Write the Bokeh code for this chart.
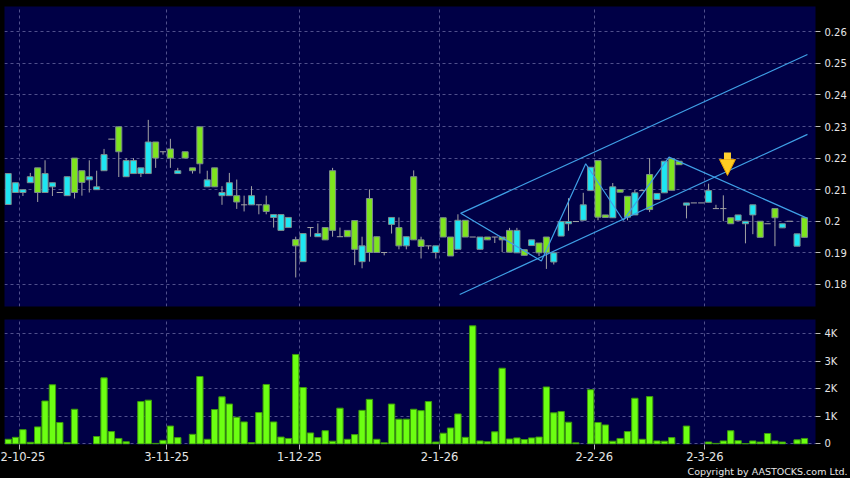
from bokeh.plotting import figure
from bokeh.layouts import column
from bokeh.models import (ColumnDataSource, Range1d, FixedTicker, Arrow, NormalHead,
                          Title, GlobalInlineStyleSheet)
from bokeh.embed import file_html
from bokeh.resources import INLINE

# ---------------- data ----------------
opens = [
    .2151, .2122, .2100, .2141, .2091, .2151, .2122, .2091, .2141, .2091,
    .2123, .2141, .2109, .2211, .2260, .2220, .2192, .2192, .2169, .2251,
    .2200, .2220, .2200, .2160, .2200, .2160, .2182, .2131, .2109, .2091,
    .2122, .2061, .2052, .2081, .2052, .2031, .2021, .2021, .2012, .1922,
    .1961, .1980, .1961, .1941, .1971, .1951, .1951, .1911, .1922, .1901,
    .1901, .1901, .2012, .1922, .1951, .1941, .1920, .1922, .1922, .1950,
    .1890, .2003, .1950, .1950, .1950, .1941, .1950, .1941, .1902, .1971,
    .1892, .1941, .1900, .1900, .1900, .1999, .1999, .1999, .2052, .2171,
    .2013, .2012, .2109, .2092, .2013, .2090, .2097, .2037, .2088, .2190,
    .2098, .2179, .2058, .2058, .2058, .2097, .2040, .2040, .1992, .2020,
    .2000, .2052, .1949, .1992, .2011, .1992, .2000, .1960, .1949]
highs = [
    .2151, .2122, .2100, .2153, .2169, .2193, .2122, .2091, .2141, .2200,
    .2160, .2193, .2160, .2229, .2260, .2299, .2200, .2200, .2169, .2321,
    .2251, .2220, .2261, .2169, .2220, .2169, .2299, .2160, .2169, .2111,
    .2153, .2132, .2081, .2111, .2052, .2081, .2021, .2021, .2012, .1951,
    .1961, .1980, .1993, .1980, .2169, .1980, .1971, .2002, .1951, .2101,
    .1951, .1901, .2012, .2012, .1951, .2161, .1951, .1922, .1922, .2011,
    .1950, .2022, .2003, .1950, .1950, .1950, .1950, .1950, .1979, .1979,
    .1910, .1941, .1931, .1950, .1900, .1999, .2073, .1999, .2090, .2171,
    .2192, .2020, .2121, .2100, .2079, .2099, .2097, .2200, .2088, .2190,
    .2198, .2190, .2058, .2058, .2058, .2119, .2052, .2082, .2011, .2020,
    .2000, .2052, .2000, .1992, .2040, .1992, .2000, .1960, .2011]
lows = [
    .2053, .2091, .2080, .2122, .2061, .2091, .2080, .2091, .2081, .2072,
    .2081, .2091, .2100, .2160, .2260, .2140, .2141, .2151, .2140, .2151,
    .2169, .2211, .2169, .2151, .2200, .2151, .2151, .2109, .2109, .2052,
    .2081, .2039, .2031, .2052, .2022, .2022, .1980, .1971, .1980, .1822,
    .1872, .1951, .1951, .1941, .1951, .1951, .1951, .1861, .1851, .1872,
    .1901, .1892, .1961, .1911, .1911, .1941, .1882, .1911, .1882, .1950,
    .1890, .1911, .1950, .1950, .1911, .1941, .1931, .1902, .1902, .1900,
    .1892, .1923, .1890, .1849, .1863, .1953, .1970, .1999, .2003, .2097,
    .2003, .2012, .2011, .2092, .2003, .2020, .2097, .2029, .2069, .2090,
    .2098, .2179, .2009, .2058, .2058, .2060, .2040, .2000, .1992, .2002,
    .1930, .1959, .1949, .1992, .1921, .1979, .2000, .1921, .1949]
closes = [
    .2053, .2091, .2091, .2122, .2169, .2091, .2109, .2091, .2081, .2200,
    .2160, .2131, .2100, .2160, .2260, .2299, .2141, .2151, .2151, .2151,
    .2251, .2220, .2229, .2151, .2220, .2169, .2299, .2109, .2169, .2081,
    .2081, .2081, .2052, .2052, .2052, .2052, .2012, .1971, .1980, .1942,
    .1872, .1980, .1951, .1980, .2160, .1951, .1971, .2002, .1872, .2072,
    .1951, .1901, .1990, .1980, .1922, .2141, .1941, .1922, .1901, .2011,
    .1950, .1911, .2003, .1950, .1911, .1950, .1950, .1950, .1971, .1900,
    .1910, .1923, .1931, .1950, .1871, .1953, .1992, .1999, .2003, .2097,
    .2192, .2020, .2011, .2100, .2079, .2020, .2097, .2148, .2069, .2090,
    .2198, .2190, .2051, .2058, .2058, .2060, .2040, .2040, .2011, .2002,
    .1992, .2020, .2000, .1992, .2040, .1979, .2000, .1921, .2011]
volumes_k = [
    0.17, 0.24, 0.52, 0.06, 0.62, 1.56, 2.15, 0.78, 0.05, 1.26,
    0.00, 0.00, 0.27, 2.40, 0.45, 0.20, 0.08, 0.00, 1.54, 1.59,
    0.02, 0.13, 0.65, 0.23, 0.00, 0.35, 2.45, 0.17, 1.25, 1.71,
    1.45, 0.97, 0.80, 0.05, 1.14, 2.16, 0.80, 0.25, 0.20, 3.25,
    2.05, 0.40, 0.23, 0.48, 0.10, 1.30, 0.17, 0.34, 1.22, 1.62,
    0.17, 0.04, 1.45, 0.90, 0.90, 1.26, 1.21, 1.54, 0.07, 0.39,
    0.58, 1.09, 0.24, 4.29, 0.11, 0.08, 0.44, 2.75, 0.18, 0.22,
    0.16, 0.22, 0.25, 2.07, 1.13, 1.18, 0.79, 0.04, 0.00, 1.97,
    0.78, 0.69, 0.10, 0.20, 0.45, 1.66, 0.17, 1.72, 0.11, 0.10,
    0.23, 0.00, 0.65, 0.00, 0.00, 0.07, 0.02, 0.11, 0.48, 0.12,
    0.01, 0.11, 0.07, 0.38, 0.11, 0.07, 0.00, 0.15, 0.20]

date_tick_pos = [1.5, 21.5, 39.5, 58.5, 79.5, 94.5]
date_tick_labels = ["2-10-25", "3-11-25", "1-12-25", "2-1-26", "2-2-26", "2-3-26"]
price_ticks = [0.18, 0.19, 0.2, 0.21, 0.22, 0.23, 0.24, 0.25, 0.26]
price_tick_labels = ["0.18", "0.19", "0.2", "0.21", "0.22", "0.23", "0.24", "0.25", "0.26"]
vol_ticks = [0, 1, 2, 3, 4]
vol_tick_labels = ["0", "1K", "2K", "3K", "4K"]

channel_x = [61.37, 108.41]
channel_upper_y = [0.2025, 0.2528]
channel_lower_x = [61.24, 108.41]
channel_lower_y = [0.1768, 0.2275]
zigzag_x = [61.37, 72.32, 78.33, 83.42, 89.63, 108.41]
zigzag_y = [0.2025, 0.1874, 0.2182, 0.2003, 0.2203, 0.2009]
signal_x = 97.56
signal_y_from = 0.2218
signal_y_to = 0.2145

copyright_text = "Copyright by AASTOCKS.com Ltd."

# ---------------- styles ----------------
NAVY = "#000046"
GRID = "#50508c"
GREEN = "#7ee41e"
CYAN = "#1ee6f2"
BODY_LINE = "#7c8c8c"
WICK = "#a4a4a4"
TREND = "#3f9fe6"
VOL_FILL = "#6cff12"
VOL_LINE = "#3c9a0c"
TXT = "#e6e6e6"
FONT = "DejaVu Sans"

n = len(opens)
idx = list(range(n))

body = dict(x=[], top=[], bottom=[], color=[])
flat = dict(x0=[], x1=[], y=[])
for i, o, c in zip(idx, opens, closes):
    if c == o:
        flat["x0"].append(i - 0.42)
        flat["x1"].append(i + 0.42)
        flat["y"].append(o)
    else:
        body["x"].append(i)
        body["top"].append(max(o, c))
        body["bottom"].append(min(o, c))
        body["color"].append(GREEN if c > o else CYAN)

wick_src = ColumnDataSource(dict(x=idx, high=highs, low=lows))
body_src = ColumnDataSource(body)
flat_src = ColumnDataSource(flat)
vol_src = ColumnDataSource(dict(x=[i for i, v in zip(idx, volumes_k) if v > 0],
                                v=[v for v in volumes_k if v > 0]))

x_range = Range1d(-0.5, 109.5)


def style(p):
    p.background_fill_color = NAVY
    p.border_fill_color = "black"
    p.outline_line_color = None
    p.grid.grid_line_color = GRID
    p.grid.grid_line_dash = "3 3"
    p.grid.grid_line_width = 1
    p.yaxis.axis_line_color = None
    p.yaxis.major_tick_in = 0
    p.yaxis.major_tick_out = 5
    p.yaxis.minor_tick_line_color = None
    p.yaxis.major_tick_line_color = "#bbbbbb"
    p.yaxis.major_label_standoff = 4
    p.yaxis.major_label_text_color = TXT
    p.yaxis.major_label_text_font = FONT
    p.yaxis.major_label_text_font_size = "10px"


# ---------------- price panel ----------------
p1 = figure(width=850, height=313, x_range=x_range, y_range=Range1d(0.1730, 0.2680),
            y_axis_location="right", x_axis_location=None,
            output_backend="svg", toolbar_location=None,
            min_border_left=4, min_border_right=35, min_border_top=6, min_border_bottom=7)
style(p1)
p1.xgrid.ticker = FixedTicker(ticks=date_tick_pos)
p1.yaxis.ticker = FixedTicker(ticks=price_ticks)
p1.yaxis.major_label_overrides = dict(zip(price_ticks, price_tick_labels))

p1.segment(x0="x", y0="high", x1="x", y1="low", source=wick_src, line_color=WICK, line_width=1)
p1.vbar(x="x", width=0.82, top="top", bottom="bottom", source=body_src,
        fill_color="color", line_color=BODY_LINE, line_width=1)
p1.segment(x0="x0", y0="y", x1="x1", y1="y", source=flat_src, line_color=WICK, line_width=1)

p1.line(channel_x, channel_upper_y, line_color=TREND, line_width=1.2)
p1.line(channel_lower_x, channel_lower_y, line_color=TREND, line_width=1.2)
p1.line(zigzag_x, zigzag_y, line_color=TREND, line_width=1.2)

p1.add_layout(Arrow(end=NormalHead(size=16, fill_color="#ffcc22", line_color="#e09c00", line_width=1),
                    x_start=signal_x, y_start=signal_y_from, x_end=signal_x, y_end=signal_y_to,
                    line_color="#ffd030", line_width=7))

# ---------------- volume panel ----------------
p2 = figure(width=850, height=165, x_range=x_range, y_range=Range1d(-0.02, 4.52),
            y_axis_location="right", output_backend="svg", toolbar_location=None,
            min_border_left=4, min_border_right=35, min_border_top=6, min_border_bottom=34)
style(p2)
p2.yaxis.ticker = FixedTicker(ticks=vol_ticks)
p2.yaxis.major_label_overrides = dict(zip(vol_ticks, vol_tick_labels))
p2.xaxis.ticker = FixedTicker(ticks=date_tick_pos)
p2.xaxis.major_label_overrides = dict(zip(date_tick_pos, date_tick_labels))
p2.xaxis.axis_line_color = None
p2.xaxis.major_tick_in = 0
p2.xaxis.major_tick_out = 5
p2.xaxis.minor_tick_line_color = None
p2.xaxis.major_tick_line_color = "#bbbbbb"
p2.xaxis.major_label_standoff = 2
p2.xaxis.major_label_text_color = TXT
p2.xaxis.major_label_text_font = FONT
p2.xaxis.major_label_text_font_size = "11.5px"

p2.vbar(x="x", width=0.86, top="v", bottom=0, source=vol_src,
        fill_color=VOL_FILL, line_color=VOL_LINE, line_width=1)

p2.add_layout(Title(text=copyright_text, align="right", text_color=TXT, text_font=FONT,
                    text_font_size="9.5px", text_font_style="normal", standoff=0, offset=-32),
              "below")

layout = column(p1, p2, spacing=0,
                stylesheets=[GlobalInlineStyleSheet(css="html, body {margin:0; padding:0; background:#000; overflow:hidden;}")])

open("out.html", "w").write(file_html(layout, INLINE))
